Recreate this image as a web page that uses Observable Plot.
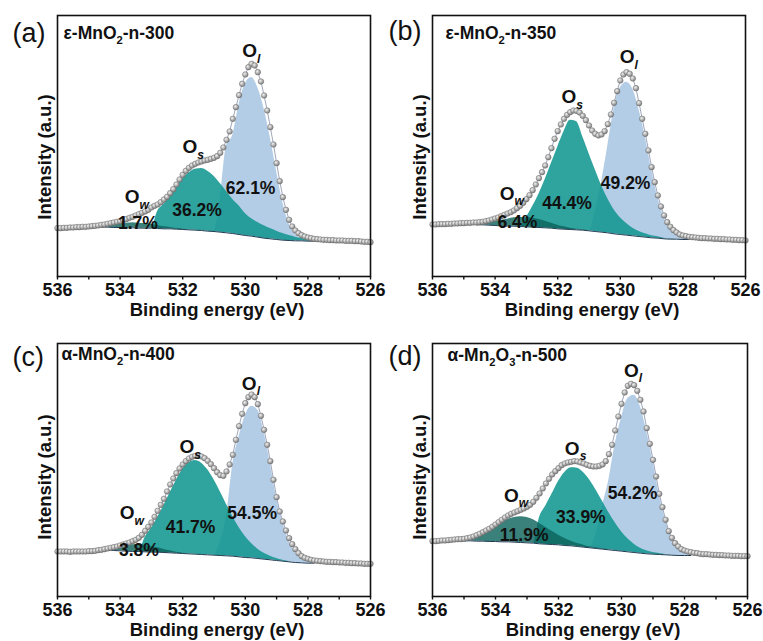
<!DOCTYPE html>
<html><head><meta charset="utf-8">
<script src="https://cdn.jsdelivr.net/npm/d3@7"></script>
<script src="https://cdn.jsdelivr.net/npm/@observablehq/plot@0.6"></script>
<style>
html,body{margin:0;padding:0;background:#fff;}
#fig{position:relative;width:763px;height:641px;overflow:hidden;}
#fig svg{position:absolute;}
</style></head><body><div id="fig"></div>
<script>
// ---------- DATA ----------
const expEnergy = [536.0,535.9,535.8,535.7,535.6,535.5,535.4,535.3,535.2,535.1,
535.0,534.9,534.8,534.7,534.6,534.5,534.4,534.3,534.2,534.1,
534.0,533.9,533.8,533.7,533.6,533.5,533.4,533.3,533.2,533.1,
533.0,532.9,532.8,532.7,532.6,532.5,532.4,532.3,532.2,532.1,
532.0,531.9,531.8,531.7,531.6,531.5,531.4,531.3,531.2,531.1,
531.0,530.9,530.8,530.7,530.6,530.5,530.4,530.3,530.2,530.1,
530.0,529.9,529.8,529.7,529.6,529.5,529.4,529.3,529.2,529.1,
529.0,528.9,528.8,528.7,528.6,528.5,528.4,528.3,528.2,528.1,
528.0,527.9,527.8,527.7,527.6,527.5,527.4,527.3,527.2,527.1,
527.0,526.9,526.8,526.7,526.6,526.5,526.4,526.3,526.2,526.1,526.0];

const fitEnergy = [535.6,535.4,535.2,535.0,534.8,534.6,534.4,534.2,534.0,533.8,
533.6,533.4,533.2,533.0,532.8,532.6,532.4,532.2,532.0,531.8,
531.6,531.4,531.2,531.0,530.8,530.6,530.4,530.2,530.0,529.8,
529.6,529.4,529.2,529.0,528.8,528.6,528.4,528.2,528.0,527.8,
527.6,527.4,527.2,527.0];

const xTicks = [536,535,534,533,532,531,530,529,528,527,526];
const xTickLabels = [536,534,532,530,528,526];
const panelLetters = ["(a)","(b)","(c)","(d)"];
const sampleNames = ["ε-MnO{2}-n-300","ε-MnO{2}-n-350","α-MnO{2}-n-400","α-Mn{2}O{3}-n-500"];
const peakNames = ["O[l]","O[s]","O[w]"];
const xLabel = "Binding energy (eV)";
const yLabel = "Intensity (a.u.)";

// (a) ε-MnO2-n-300
const expA = [145,145,146,146,147,147,148,148,149,149,
150,151,152,153,155,156,158,160,162,164,
166,169,172,176,179,183,187,191,195,200,
207,212,216,223,231,239,250,262,276,291,
305,317,326,333,338,342,345,348,350,353,
356,361,371,387,410,435,473,508,544,578,
606,628,638,633,613,585,543,498,448,396,
340,286,238,200,170,150,138,130,124,120,
117,115,113,112,111,110,110,109,109,108,
108,108,107,107,107,106,106,105,104,104,103];
const bgA = [null,null,null,null,null,148,148,147,147,146,146,145,145,145,144,143,143,142,141,140,
139,138,136,135,133,131,129,126,123,121,118,115,113,111,109,108,107,107,106,106,106,null,null,null];
const owA = [0,0,0,0,0,0,5,9,12,14,15,15,14,12,9,6,4,2,1,0,
0,0,0,0,0,0,0,0,0,0,0,0,0,0,0,0,0,0,0,0,0,0,0,0];
const osA = [0,0,0,0,0,0,0,0,0,0,0,0,0,0,52,74,99,127,152,171,
183,186,180,166,146,124,102,86,66,52,44,37,31,25,20,15,11,7,4,2,0,0,0,0];
const olA = [0,0,0,0,0,0,0,0,0,0,0,0,0,0,0,0,0,0,0,0,
0,0,0,0,100,262,295,390,455,476,448,388,303,205,112,50,20,7,2,0,0,0,0,0];
const pctA = ["1.7%","36.2%","62.1%"];

// (b) ε-MnO2-n-350
const expB = [156,156,157,157,157,158,158,159,159,160,
160,161,161,162,162,163,164,166,168,171,
174,177,181,185,189,193,198,205,212,221,
232,244,259,276,295,313,333,358,385,413,
436,456,473,485,493,498,497,492,482,469,
453,438,428,423,426,436,457,486,521,556,
588,606,613,608,594,565,520,473,428,378,
328,283,243,210,183,163,149,139,132,126,
123,121,119,118,117,116,115,115,114,114,
113,113,112,112,111,111,110,110,109,109,108];
const bgB = [null,null,null,null,null,155,155,154,153,152,151,151,150,149,148,147,146,145,143,142,
141,140,139,137,135,133,131,128,126,124,122,120,118,116,115,113,112,112,111,111,null,null,null,null];
const owB = [0,0,0,0,0,0,4,8,12,17,21,25,27,28,27,24,20,15,11,7,
4,2,1,0,0,0,0,0,0,0,0,0,0,0,0,0,0,0,0,0,0,0,0,0];
const osB = [0,0,0,0,0,0,0,0,0,0,0,0,0,28,62,100,145,195,245,292,
328,325,280,232,185,140,102,72,50,35,23,15,10,6,4,2,1,0,0,0,0,0,0,0];
const olB = [0,0,0,0,0,0,0,0,0,0,0,0,0,0,0,0,0,0,0,0,
0,0,0,0,60,150,260,375,440,459,440,380,300,205,122,65,30,12,4,0,0,0,0,0];
const pctB = ["6.4%","44.4%","49.2%"];

// (c) α-MnO2-n-400
const expC = [135,135,135,135,134,135,135,135,135,135,
136,136,137,139,140,142,144,146,148,150,
153,156,159,162,166,170,176,185,197,209,
222,239,257,275,293,315,336,354,370,384,
396,406,414,419,422,423,420,415,407,397,
385,373,364,362,375,396,425,470,511,548,
580,598,606,598,577,542,500,455,406,350,
298,255,225,198,175,157,142,130,121,116,
113,110,108,107,106,105,104,104,103,103,
102,102,101,101,100,100,99,99,98,98,98];
const bgC = [null,null,null,null,null,null,139,138,137,136,135,135,134,133,133,132,131,130,129,128,
127,126,125,124,123,122,121,119,117,116,114,112,110,108,106,104,102,101,100,100,null,null,null,null];
const owC = [0,0,0,0,0,0,0,6,12,17,20,21,20,17,13,9,6,3,1,0,
0,0,0,0,0,0,0,0,0,0,0,0,0,0,0,0,0,0,0,0,0,0,0,0];
const osC = [0,0,0,0,0,0,0,0,0,0,0,0,44,72,104,141,181,219,253,273,
281,274,255,226,191,154,119,88,63,43,28,18,11,6,3,1,0,0,0,0,0,0,0,0];
const olC = [0,0,0,0,0,0,0,0,0,0,0,0,0,0,0,0,0,0,0,0,
0,0,0,0,40,120,275,360,425,455,445,380,288,186,116,62,30,12,4,0,0,0,0,0];
const pctC = ["3.8%","41.7%","54.5%"];

// (d) α-Mn2O3-n-500
const expD = [166,166,167,168,168,169,170,171,172,172,
173,175,177,180,184,188,193,198,203,209,
216,223,230,237,243,248,252,256,260,264,
269,275,284,296,309,324,339,353,366,376,
385,394,399,402,404,406,405,402,399,395,
392,390,390,392,396,406,427,455,498,540,
578,612,632,638,634,617,590,555,505,458,
410,360,308,268,230,196,176,160,150,142,
138,135,133,131,130,128,127,127,126,125,
125,124,124,123,123,122,122,122,121,121,121];
const bgD = [null,null,167,167,167,166,166,165,165,164,164,163,162,161,160,158,157,156,155,153,
152,150,148,146,144,142,140,138,136,134,132,130,128,127,126,125,124,123,123,123,null,null,null,null];
const owD = [0,0,0,6,11,18,26,35,46,57,67,74,77,76,70,61,50,39,29,21,
14,9,6,3,2,1,0,0,0,0,0,0,0,0,0,0,0,0,0,0,0,0,0,0];
const osD = [0,0,0,0,0,0,0,0,0,0,0,0,0,0,0,80,115,152,190,219,
234,235,223,202,174,143,111,83,58,39,25,15,9,5,3,1,0,0,0,0,0,0,0,0];
const olD = [0,0,0,0,0,0,0,0,0,0,0,0,0,0,0,0,0,0,0,0,
0,0,0,0,45,130,210,320,400,460,472,440,368,278,179,104,52,22,8,0,0,0,0,0];
const pctD = ["11.9%","33.9%","54.2%"];

// ---------- LAYOUT / STYLE ----------
const FONT = "'Liberation Sans', Arial, Helvetica, sans-serif";
const COLORS = {ol:"#b3cde6", os:"#12968f", ow:"#0a625a", bg:"#203a52", env:"#8891ab"};

const panels = [
 {exp:expA,bg:bgA,ow:owA,os:osA,ol:olA,pct:pctA,left:0,top:0,width:380,height:320,mt:15,mb:44,ymax:783,
  peakAt:[[529.86,676],[531.77,388],[533.61,238]],pctAt:[[533.43,158],[531.54,198],[529.83,263]],
  titleDx:6,titleDy:11,letterDx:-45,letterDy:26.7,ylabDy:11},
 {exp:expB,bg:bgB,ow:owB,os:osB,ol:olB,pct:pctB,left:375,top:0,width:380,height:320,mt:15,mb:44,ymax:783,
  peakAt:[[529.78,658],[531.64,538],[533.61,248]],pctAt:[[533.29,163],[531.70,220],[529.83,280]],
  titleDx:13,titleDy:11,letterDx:-44,letterDy:24.3,ylabDy:11},
 {exp:expC,bg:bgC,ow:owC,os:osC,ol:olC,pct:pctC,left:0,top:328,width:380,height:313,mt:15,mb:45,ymax:759,
  peakAt:[[529.87,638],[531.86,448],[533.77,250]],pctAt:[[533.40,138],[531.75,208],[529.78,250]],
  titleDx:4,titleDy:4,letterDx:-45,letterDy:22.3,ylabDy:7},
 {exp:expD,bg:bgD,ow:owD,os:osD,ol:olD,pct:pctD,left:375,top:328,width:382,height:313,mt:15,mb:45,ymax:759,
  peakAt:[[529.68,678],[531.56,443],[533.49,303]],pctAt:[[533.09,183],[531.29,238],[529.65,308]],
  titleDx:15,titleDy:5,letterDx:-44,letterDy:21.7,ylabDy:7}
];

const NS = "http://www.w3.org/2000/svg";
function richify(svg){
  svg.querySelectorAll("text").forEach(t=>{
    const s = t.textContent;
    if(!/[\{\[]/.test(s)) return;
    const fs = parseFloat(getComputedStyle(t).fontSize) || 16;
    const shift = fs*0.28;
    while(t.firstChild) t.removeChild(t.firstChild);
    const re = /([^\{\[]+)|\{([^\}]*)\}|\[([^\]]*)\]/g;
    let m, shifted = false;
    while((m = re.exec(s))){
      const ts = document.createElementNS(NS,"tspan");
      if(m[1] !== undefined){
        ts.textContent = m[1];
        if(shifted){ ts.setAttribute("dy", -shift); shifted = false; }
      } else {
        ts.textContent = m[2] !== undefined ? m[2] : m[3];
        ts.setAttribute("font-size", fs*0.64);
        ts.setAttribute("dy", shift);
        if(m[3] !== undefined) ts.setAttribute("font-style","italic");
        shifted = true;
      }
      t.appendChild(ts);
    }
  });
}

const fig = document.getElementById("fig");
panels.forEach((p,k)=>{
  const id = "ball" + k;
  const rows = fitEnergy.map((e,i)=>{
    const b = p.bg[i];
    return {e, bg:b, ow:b==null?null:b+p.ow[i], os:b==null?null:b+p.os[i], ol:b==null?null:b+p.ol[i]};
  });
  const pts = expEnergy.map((e,i)=>({e, v:p.exp[i]}));
  const peaks = peakNames.map((t,i)=>({t, e:p.peakAt[i][0], v:p.peakAt[i][1]}));
  const pcts = p.pct.map((t,i)=>({t, e:p.pctAt[i][0], v:p.pctAt[i][1]}));
  const svg = Plot.plot({
    width:p.width, height:p.height,
    marginLeft:57, marginRight:10, marginTop:p.mt, marginBottom:p.mb,
    style:{fontFamily:FONT, fontWeight:"bold", background:"transparent", overflow:"visible", color:"#111"},
    x:{domain:[536,526], label:null},
    y:{domain:[0,p.ymax], axis:null},
    marks:[
      Plot.areaY(rows,{x:"e", y1:"bg", y2:"ol", fill:COLORS.ol, curve:"monotone-x"}),
      Plot.areaY(rows,{x:"e", y1:"bg", y2:"os", fill:COLORS.os, fillOpacity:0.88, curve:"monotone-x"}),
      Plot.areaY(rows,{x:"e", y1:"bg", y2:"ow", fill:COLORS.ow, fillOpacity:0.8, curve:"monotone-x"}),
      Plot.lineY(rows,{x:"e", y:"bg", stroke:COLORS.bg, strokeWidth:1, curve:"monotone-x"}),
      Plot.lineY(pts,{x:"e", y:"v", stroke:COLORS.env, strokeWidth:0.8}),
      Plot.dot(pts,{x:"e", y:"v", r:2.8, fill:`url(#${id})`, stroke:"#6e6e6e", strokeWidth:0.5}),
      Plot.frame({stroke:"#111", strokeWidth:1.6}),
      Plot.axisX({ticks:xTicks, tickFormat:d=>xTickLabels.includes(d)?String(d):"", tickSize:3.5, tickPadding:3.5,
                  fontSize:18, fontWeight:"bold", strokeWidth:1.4}),
      Plot.text(peaks,{x:"e", y:"v", text:"t", textAnchor:"start", dx:-7.5, fontSize:19, fontWeight:"bold", fill:"#111"}),
      Plot.text(pcts,{x:"e", y:"v", text:"t", fontSize:17.5, fontWeight:"bold", fill:"#111"}),
      Plot.text([sampleNames[k]],{text:d=>d, frameAnchor:"top-left", dx:p.titleDx, dy:p.titleDy, lineAnchor:"top",
                  textAnchor:"start", fontSize:17.5, fontWeight:"bold", fill:"#111"}),
      Plot.text([panelLetters[k]],{text:d=>d, frameAnchor:"top-left", dx:p.letterDx, dy:p.letterDy, lineAnchor:"bottom",
                  textAnchor:"start", fontSize:27, fontWeight:"normal", fill:"#111"}),
      Plot.text([yLabel],{text:d=>d, frameAnchor:"left", textAnchor:"middle", lineAnchor:"middle", dx:-12, dy:p.ylabDy,
                  rotate:-90, fontSize:18.5, fontWeight:"bold", fill:"#111"}),
      Plot.text([xLabel],{text:d=>d, frameAnchor:"bottom", textAnchor:"middle", dx:3, dy:39.5, lineAnchor:"bottom",
                  fontSize:18.5, fontWeight:"bold", fill:"#111"})
    ]
  });
  svg.style.left = p.left + "px";
  svg.style.top = p.top + "px";
  const defs = document.createElementNS(NS,"defs");
  defs.innerHTML = `<radialGradient id="${id}" cx="38%" cy="35%" r="65%"><stop offset="0" stop-color="#f2f2f2"/><stop offset="0.55" stop-color="#b4b4b4"/><stop offset="1" stop-color="#7c7c7c"/></radialGradient>`;
  svg.insertBefore(defs, svg.firstChild);
  fig.appendChild(svg);
  richify(svg);
});
</script>
</body></html>
